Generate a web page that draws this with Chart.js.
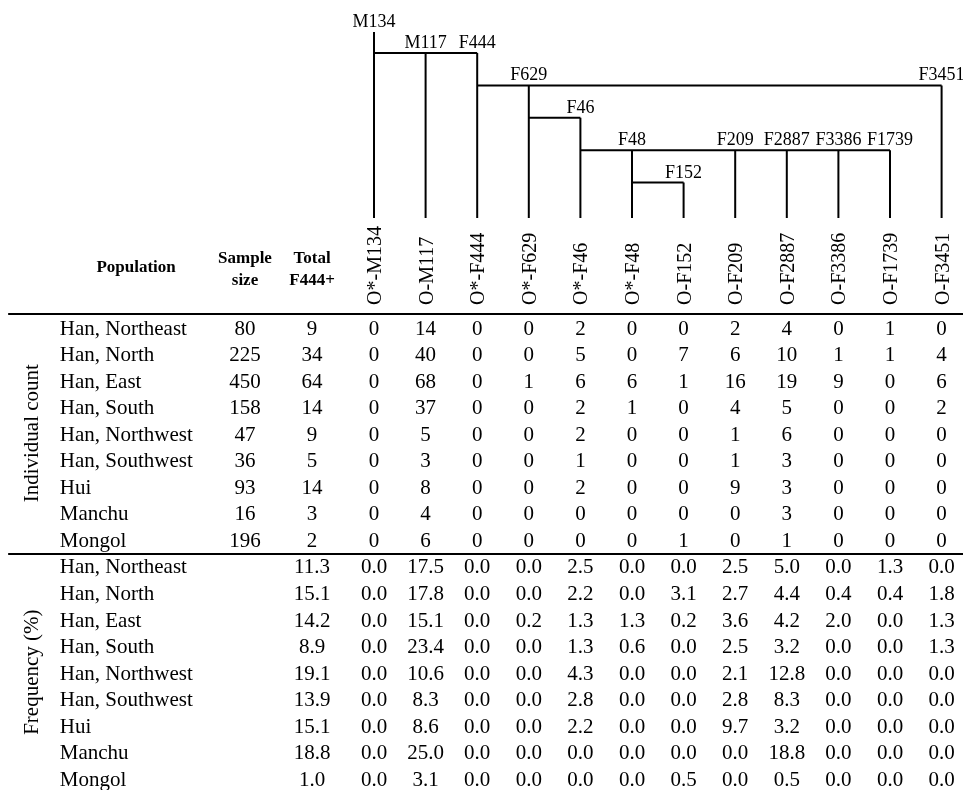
<!DOCTYPE html>
<html>
<head>
<meta charset="utf-8">
<script src="https://cdn.jsdelivr.net/npm/chart.js@4/dist/chart.umd.min.js"></script>
<style>
html,body{margin:0;padding:0;background:#fff;}
#wrap{position:relative;width:963px;height:790px;}
</style>
</head>
<body>
<div id="wrap"><canvas id="c" width="963" height="790"></canvas></div>
<script>
// ---------------- DATA ----------------
const populations = ['Han, Northeast','Han, North','Han, East','Han, South','Han, Northwest','Han, Southwest','Hui','Manchu','Mongol'];
const sampleSize = [80, 225, 450, 158, 47, 36, 93, 16, 196];
const totalF444 = [9, 34, 64, 14, 9, 5, 14, 3, 2];
const totalF444Freq = ['11.3','15.1','14.2','8.9','19.1','13.9','15.1','18.8','1.0'];

const haplogroups = ['O*-M134','O-M117','O*-F444','O*-F629','O*-F46','O*-F48','O-F152','O-F209','O-F2887','O-F3386','O-F1739','O-F3451'];

// tree markers (one per haplogroup column) and parent index
const treeMarkers = ['M134','M117','F444','F629','F46','F48','F152','F209','F2887','F3386','F1739','F3451'];
const treeParent = [null, 0, 0, 2, 3, 4, 5, 4, 4, 4, 4, 2];

// individual counts per population (columns follow haplogroups)
const countHanNortheast = [0,14,0,0,2,0,0,2,4,0,1,0];
const countHanNorth     = [0,40,0,0,5,0,7,6,10,1,1,4];
const countHanEast      = [0,68,0,1,6,6,1,16,19,9,0,6];
const countHanSouth     = [0,37,0,0,2,1,0,4,5,0,0,2];
const countHanNorthwest = [0,5,0,0,2,0,0,1,6,0,0,0];
const countHanSouthwest = [0,3,0,0,1,0,0,1,3,0,0,0];
const countHui          = [0,8,0,0,2,0,0,9,3,0,0,0];
const countManchu       = [0,4,0,0,0,0,0,0,3,0,0,0];
const countMongol       = [0,6,0,0,0,0,1,0,1,0,0,0];

// frequencies (%) per population
const freqHanNortheast = ['0.0','17.5','0.0','0.0','2.5','0.0','0.0','2.5','5.0','0.0','1.3','0.0'];
const freqHanNorth     = ['0.0','17.8','0.0','0.0','2.2','0.0','3.1','2.7','4.4','0.4','0.4','1.8'];
const freqHanEast      = ['0.0','15.1','0.0','0.2','1.3','1.3','0.2','3.6','4.2','2.0','0.0','1.3'];
const freqHanSouth     = ['0.0','23.4','0.0','0.0','1.3','0.6','0.0','2.5','3.2','0.0','0.0','1.3'];
const freqHanNorthwest = ['0.0','10.6','0.0','0.0','4.3','0.0','0.0','2.1','12.8','0.0','0.0','0.0'];
const freqHanSouthwest = ['0.0','8.3','0.0','0.0','2.8','0.0','0.0','2.8','8.3','0.0','0.0','0.0'];
const freqHui          = ['0.0','8.6','0.0','0.0','2.2','0.0','0.0','9.7','3.2','0.0','0.0','0.0'];
const freqManchu       = ['0.0','25.0','0.0','0.0','0.0','0.0','0.0','0.0','18.8','0.0','0.0','0.0'];
const freqMongol       = ['0.0','3.1','0.0','0.0','0.0','0.0','0.5','0.0','0.5','0.0','0.0','0.0'];

const countRows = [countHanNortheast,countHanNorth,countHanEast,countHanSouth,countHanNorthwest,countHanSouthwest,countHui,countManchu,countMongol];
const freqRows = [freqHanNortheast,freqHanNorth,freqHanEast,freqHanSouth,freqHanNorthwest,freqHanSouthwest,freqHui,freqManchu,freqMongol];

// ---------------- LAYOUT (in scale units) ----------------
const X_NAME = -6.09, X_SAMPLE = -2.5, X_TOTAL = -1.2, X_SECTION = -6.62, X_RULE_START = -7.09;
const ROOT_TOP = -0.65, TREE_BOTTOM = 5.09;
const RULE_HEADER = -0.49, RULE_SECTION = 8.55;
const FONT = '"Liberation Serif", "Times New Roman", serif';
const TEXT_SHIFT = 2;

// depth of each node in the tree
function depth(i){ let d = 0; while (treeParent[i] !== null) { i = treeParent[i]; d++; } return d; }

const datasets = [];
const lineStyle = {type:'line', borderColor:'#000', borderWidth:2, pointRadius:0, fill:false, tension:0, clip:false, parsing:false};

// vertical branches
treeMarkers.forEach((m, i) => {
  const top = treeParent[i] === null ? ROOT_TOP : depth(treeParent[i]);
  datasets.push(Object.assign({label:'v-'+m, xAxisID:'x', yAxisID:'yTree',
    data:[{x:i, y:top},{x:i, y:TREE_BOTTOM}]}, lineStyle));
});
// horizontal bars (one per internal node)
treeMarkers.forEach((m, i) => {
  const kids = treeParent.map((p, j) => p === i ? j : -1).filter(j => j >= 0);
  if (!kids.length) return;
  const lvl = depth(i);
  datasets.push(Object.assign({label:'h-'+m, xAxisID:'x', yAxisID:'yTree',
    data:[{x:i, y:lvl},{x:Math.max(...kids), y:lvl}]}, lineStyle));
});
// table rules
[RULE_HEADER, RULE_SECTION].forEach((r, k) => {
  datasets.push(Object.assign({label:'rule'+k, xAxisID:'x', yAxisID:'yRow',
    data:[{x:X_RULE_START, y:r},{x:11.5, y:r}]}, lineStyle, {borderWidth:2.2}));
});

const textPlugin = {
  id: 'tableText',
  afterDatasetsDraw(chart) {
    const ctx = chart.ctx;
    const x = chart.scales.x, yRow = chart.scales.yRow, yTree = chart.scales.yTree;
    ctx.save();
    ctx.fillStyle = '#000';

    // tree labels
    ctx.font = '18px ' + FONT;
    ctx.textAlign = 'center';
    ctx.textBaseline = 'alphabetic';
    treeMarkers.forEach((m, i) => {
      const top = treeParent[i] === null ? ROOT_TOP : depth(treeParent[i]);
      ctx.fillText(m, x.getPixelForValue(i), yTree.getPixelForValue(top) - 5);
    });

    // header
    ctx.font = 'bold 17px ' + FONT;
    ctx.textBaseline = 'middle';
    ctx.fillText('Population', x.getPixelForValue(-4.61), yRow.getPixelForValue(-2.26) + 1);
    ctx.fillText('Sample', x.getPixelForValue(X_SAMPLE), yRow.getPixelForValue(-2.6) + 1);
    ctx.fillText('size', x.getPixelForValue(X_SAMPLE), yRow.getPixelForValue(-1.77) + 1);
    ctx.fillText('Total', x.getPixelForValue(X_TOTAL), yRow.getPixelForValue(-2.6) + 1);
    ctx.fillText('F444+', x.getPixelForValue(X_TOTAL), yRow.getPixelForValue(-1.77) + 1);

    // rotated haplogroup labels
    ctx.font = '20px ' + FONT;
    haplogroups.forEach((h, i) => {
      ctx.save();
      ctx.translate(x.getPixelForValue(i) + 7, yRow.getPixelForValue(-0.83));
      ctx.rotate(-Math.PI / 2);
      ctx.textAlign = 'left';
      ctx.textBaseline = 'alphabetic';
      ctx.fillText(h, 0, 0);
      ctx.restore();
    });

    // section labels
    ctx.font = '21px ' + FONT;
    [['Individual count', 4], ['Frequency (%)', 13]].forEach(([t, r]) => {
      ctx.save();
      ctx.translate(x.getPixelForValue(X_SECTION), yRow.getPixelForValue(r));
      ctx.rotate(-Math.PI / 2);
      ctx.textAlign = 'center';
      ctx.textBaseline = 'middle';
      ctx.fillText(t, 0, 0);
      ctx.restore();
    });

    // body rows
    ctx.font = '21px ' + FONT;
    ctx.textBaseline = 'middle';
    populations.forEach((p, r) => {
      [[r, countRows[r], sampleSize[r], totalF444[r]], [r + 9, freqRows[r], null, totalF444Freq[r]]].forEach(([row, vals, ss, tot]) => {
        const py = yRow.getPixelForValue(row) + TEXT_SHIFT;
        ctx.textAlign = 'left';
        ctx.fillText(p, x.getPixelForValue(X_NAME), py);
        ctx.textAlign = 'center';
        if (ss !== null) ctx.fillText(String(ss), x.getPixelForValue(X_SAMPLE), py);
        ctx.fillText(String(tot), x.getPixelForValue(X_TOTAL), py);
        vals.forEach((v, i) => ctx.fillText(String(v), x.getPixelForValue(i), py));
      });
    });
    ctx.restore();
  }
};

new Chart(document.getElementById('c'), {
  type: 'line',
  data: { datasets },
  options: {
    responsive: false,
    animation: false,
    events: [],
    layout: { padding: 0 },
    plugins: { legend: {display:false}, tooltip: {enabled:false}, title: {display:false} },
    scales: {
      x: { type:'linear', display:false, min:-374/51.6, max:(963-374)/51.6 },
      yTree: { type:'linear', display:false, reverse:true, min:-53/32.4, max:(790-53)/32.4 },
      yRow: { type:'linear', display:false, reverse:true, min:-327/26.55, max:(790-327)/26.55 }
    }
  },
  plugins: [textPlugin]
});
</script>
</body>
</html>
